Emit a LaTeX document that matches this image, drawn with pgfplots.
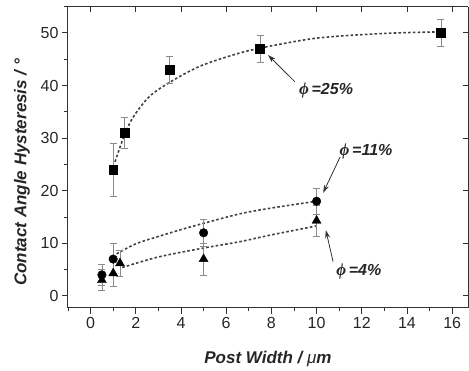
\documentclass[border=0pt]{standalone}
\usepackage{fontspec}
\setmainfont{Liberation Sans}
\newfontfamily\phifont{Liberation Serif}
\usepackage{pgfplots}
\pgfplotsset{compat=1.18}
\usetikzlibrary{arrows.meta}
\definecolor{axcol}{HTML}{333333}
\definecolor{fitcol}{HTML}{404040}
\definecolor{errcol}{HTML}{8A8A8A}
\pgfplotsset{
  base/.style={
    scale only axis, width=400pt, height=301.4pt,
    xmin=-1, xmax=16.7, ymin=-2.3, ymax=55,
    axis line style={axcol, line width=1pt},
    every tick/.style={axcol, line width=0.9pt},
  },
  fit/.style={fitcol, line width=1.6pt, dash pattern=on 2.6pt off 2.2pt, smooth, no marks},
  ebar/.style={error bars/.cd, y dir=both, y explicit,
     error bar style={errcol, line width=0.6pt},
     error mark options={rotate=90, mark size=3.5pt, errcol, line width=0.6pt}},
}
\newcommand{\ann}[1]{{\phifont\itshape\fontsize{17}{17}\selectfont ϕ}\,=#1}
\begin{document}
\begin{tikzpicture}[x=1pt,y=1pt]
\useasboundingbox (0,0) rectangle (469,371);
\begin{axis}[base, at={(68pt,63pt)}, anchor=south west,
  axis x line*=bottom, axis y line*=left,
  tick align=outside,
  xtick={0,2,...,16}, ytick={0,10,...,50},
  minor xtick={-1,1,3,...,15}, minor ytick={5,15,...,55},
  major tick length=6pt, minor tick length=3.5pt,
  /pgf/number format/assume math mode=true,
  ticklabel style={font=\fontsize{16}{16}\selectfont, text=black!85},
  xlabel={Post Width / {\mdseries\itshape μ}m},
  ylabel={Contact Angle Hysteresis / °},
  every axis x label/.style={at={(axis description cs:0.5,-0.17)}, anchor=center,
     font=\fontsize{17}{17}\selectfont\bfseries\itshape, text=black!85},
  every axis y label/.style={at={(axis description cs:-0.115,0.45)}, rotate=90, anchor=center,
     font=\fontsize{17}{17}\selectfont\bfseries\itshape, text=black!85},
  clip=false,
]
% fit curves
\addplot[fit] coordinates {(1.08,25.5) (1.5,30.6) (1.9,34.1) (2.6,37.9) (3.5,40.6) (4.8,43.6) (6.3,45.8) (7.5,47.1) (10,49.0) (13,49.9) (15.5,50.2)};
\addplot[fit] coordinates {(1.15,8.0) (2,9.9) (3,11.3) (4,12.6) (5,13.8) (6.6,15.6) (8,16.7) (10,18.0)};
\addplot[fit] coordinates {(1.4,5.4) (3,7.4) (5,9.1) (6.6,10.3) (8,11.6) (10,13.3)};
% data
\addplot[only marks, mark=square*, mark size=4.4pt, mark options={black}, ebar]
  coordinates {(1,24) +- (0,5) (1.5,31) +- (0,3) (3.5,43) +- (0,2.5) (7.5,47) +- (0,2.5) (15.5,50) +- (0,2.5)};
\addplot[only marks, mark=*, mark size=4.3pt, mark options={black}, ebar]
  coordinates {(0.5,4) +- (0,2) (1,7) +- (0,3) (5,12) +- (0,2.5) (10,18) +- (0,2.5)};
\addplot[only marks, mark=triangle*, mark size=5.2pt, mark options={black}, ebar]
  coordinates {(0.5,3) +- (0,2) (1,4.3) +- (0,2.5) (1.3,6.2) +- (0,2.5) (5,7) +- (0,3) (10,14.3) +- (0,3)};
% annotations
\draw[-{Stealth[length=8pt,width=5pt]}, axcol, line width=0.8pt] (axis cs:9.04,40.7) -- (axis cs:7.85,45.8);
\node[font=\fontsize{16}{16}\selectfont\bfseries\itshape, text=black!85, anchor=center] at (axis cs:10.42,39.0) {\ann{25\%}};
\draw[-{Stealth[length=8pt,width=5pt]}, axcol, line width=0.8pt] (axis cs:11.04,26.4) -- (axis cs:10.29,19.6);
\node[font=\fontsize{16}{16}\selectfont\bfseries\itshape, text=black!85, anchor=center] at (axis cs:12.19,27.4) {\ann{11\%}};
\draw[-{Stealth[length=8pt,width=5pt]}, axcol, line width=0.8pt] (axis cs:10.73,6.5) -- (axis cs:10.41,12.5);
\node[font=\fontsize{16}{16}\selectfont\bfseries\itshape, text=black!85, anchor=center] at (axis cs:11.87,4.56) {\ann{4\%}};
\end{axis}
\begin{axis}[base, at={(68pt,63pt)}, anchor=south west,
  axis x line*=top, axis y line*=right,
  tick align=inside,
  xtick={0,2,...,16}, ytick={0,10,...,50},
  major tick length=5pt,
  xticklabels={}, yticklabels={},
]
\addplot[draw=none, forget plot] coordinates {(0,0)};
\end{axis}
\end{tikzpicture}
\end{document}
